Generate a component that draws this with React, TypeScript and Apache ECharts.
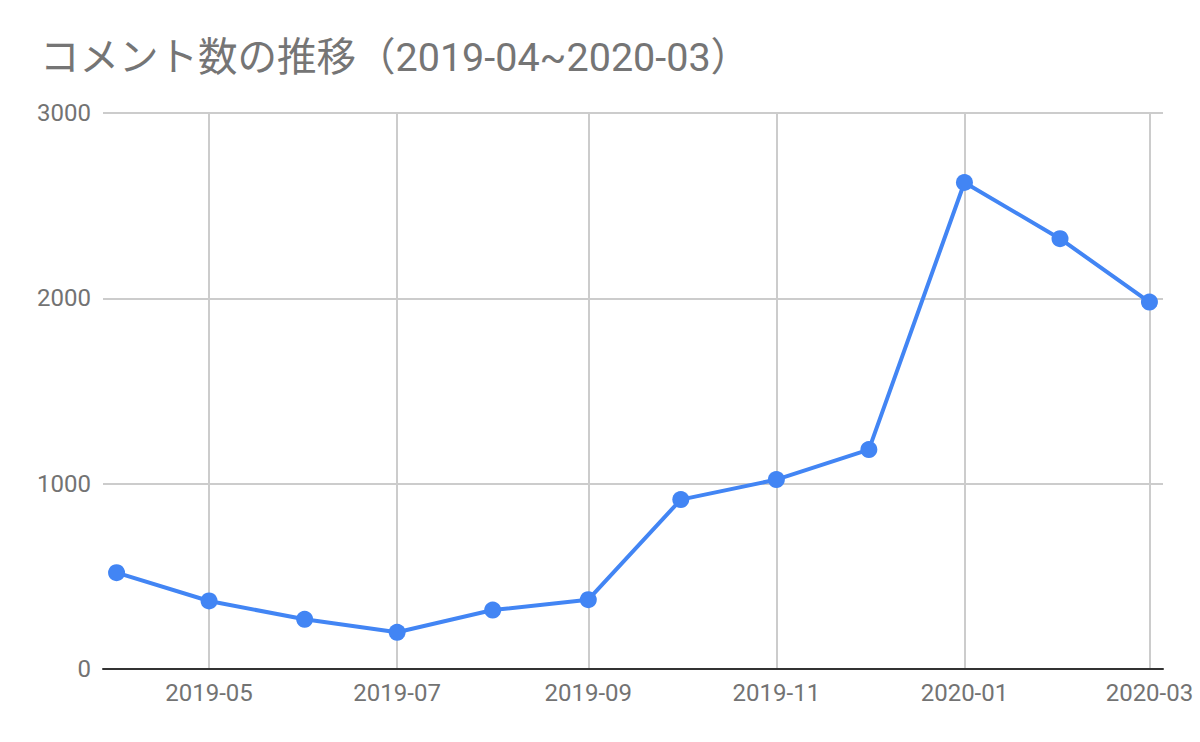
import { useEffect, useRef } from "react";
import * as echarts from "echarts";
import type { EChartsOption } from "echarts";

// monthly comment counts, 2019-04 .. 2020-03
const months = [
  "2019-04", "2019-05", "2019-06", "2019-07", "2019-08", "2019-09",
  "2019-10", "2019-11", "2019-12", "2020-01", "2020-02", "2020-03",
];
const comments = [520, 367, 268, 198, 318, 374, 914, 1022, 1184, 2625, 2322, 1980];
const tickMonths = ["2019-05", "2019-07", "2019-09", "2019-11", "2020-01", "2020-03"];
const yTicks = [0, 1000, 2000, 3000];

const title = "コメント数の推移（2019-04~2020-03）";

const toTime = (m: string) => {
  const [y, mo] = m.split("-").map(Number);
  return Date.UTC(y, mo - 1, 1);
};
const fmt = (t: number) => {
  const d = new Date(t);
  return `${d.getUTCFullYear()}-${String(d.getUTCMonth() + 1).padStart(2, "0")}`;
};

const DAY = 86400000;

export default function App() {
  const chartRef = useRef<HTMLDivElement>(null);

  useEffect(() => {
    if (!chartRef.current) return;
    const chart = echarts.init(chartRef.current, undefined, { renderer: "svg" });
    const tickTimes = tickMonths.map(toTime);

    const option: EChartsOption = {
      animation: false,
      backgroundColor: "#ffffff",
      title: {
        text: title,
        left: 35,
        top: 33,
        textStyle: {
          fontFamily: "Roboto, 'Noto Sans CJK JP', sans-serif",
          fontSize: 39.5,
          fontWeight: "normal",
          color: "#757575",
        },
      },
      grid: {
        left: 103,
        right: 37,
        top: 113,
        bottom: 73,
        containLabel: false,
        outerBoundsMode: "none",
      } as any,
      xAxis: {
        // timestamps on a value axis so ticks can sit on chosen month starts
        type: "value",
        min: toTime(months[0]) - 4.4 * DAY,
        max: toTime(months[months.length - 1]) + 4.4 * DAY,
        axisLine: { show: true, lineStyle: { color: "#333333", width: 2 } },
        axisTick: { show: false, customValues: tickTimes } as any,
        axisLabel: {
          customValues: tickTimes,
          formatter: (v: number) => fmt(v),
          fontFamily: "Roboto, sans-serif",
          fontSize: 24,
          color: "#737373",
          margin: 12,
          showMinLabel: true,
          showMaxLabel: true,
        } as any,
        splitLine: { show: true, lineStyle: { color: "#cccccc", width: 2 } },
      },
      yAxis: {
        type: "value",
        min: yTicks[0],
        max: yTicks[yTicks.length - 1],
        interval: 1000,
        axisLine: { show: false },
        axisTick: { show: false },
        axisLabel: {
          formatter: (v: number) => String(v),
          fontFamily: "Roboto, sans-serif",
          fontSize: 24,
          color: "#737373",
          margin: 12,
        },
        splitLine: { show: true, lineStyle: { color: "#cccccc", width: 2 } },
      },
      series: [
        {
          type: "line",
          data: months.map((m, i) => [toTime(m), comments[i]]),
          symbol: "circle",
          symbolSize: 17,
          showAllSymbol: true,
          lineStyle: { color: "#4285F4", width: 4 },
          itemStyle: { color: "#4285F4" },
          z: 5,
        },
      ],
    };

    chart.setOption(option);
    return () => {
      chart.dispose();
    };
  }, []);

  return (
    <div
      ref={chartRef}
      style={{ position: "absolute", left: 0, top: 0, width: 1200, height: 742 }}
    />
  );
}
